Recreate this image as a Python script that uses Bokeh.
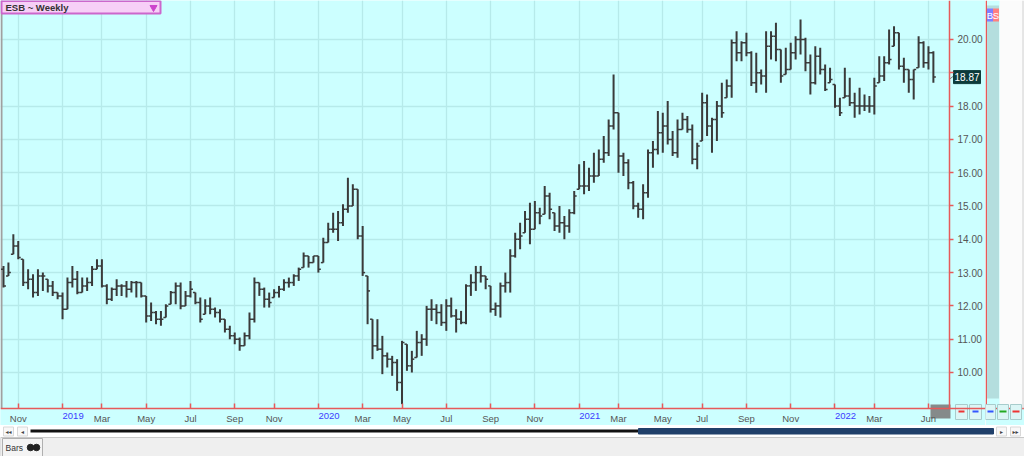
import pandas as pd
from bokeh.plotting import figure
from bokeh.layouts import column, row
from bokeh.models import ColumnDataSource, FixedTicker, PrintfTickFormatter, Range1d
from bokeh.core.properties import value
from bokeh.embed import file_html
from bokeh.resources import INLINE

# ---------------- data (weekly OHLC, ESB) ----------------
first_week = "2018-10-12"
high = [13.2, 13.3, 14.15, 13.95, 13.4, 13.1, 12.95, 13.1, 13.0, 12.8,
        12.75, 12.4, 12.4, 12.85, 13.2, 13.05, 12.85, 12.85, 13.2, 13.4,
        13.4, 12.65, 12.55, 12.8, 12.65, 12.75, 12.75, 12.75, 12.7, 12.3,
        12.1, 11.85, 11.85, 12.05, 12.45, 12.7, 12.7, 12.45, 12.75, 12.4,
        12.25, 12.2, 12.25, 11.95, 11.9, 11.6, 11.4, 11.2, 11.05, 11.2,
        11.8, 12.85, 12.7, 12.55, 12.4, 12.5, 12.6, 12.8, 12.85, 12.95,
        13.15, 13.6, 13.5, 13.5, 13.5, 14.05, 14.5, 14.8, 14.85, 15.05,
        15.85, 15.65, 15.5, 14.4, 12.9, 11.6, 11.6, 11.1, 10.6, 10.5,
        10.4, 10.95, 10.85, 10.65, 11.25, 11.15, 12.0, 12.2, 12.05, 12.05,
        12.2, 12.25, 11.9, 11.85, 12.65, 12.95, 13.2, 13.2, 12.9, 12.6,
        12.1, 12.7, 13.0, 13.7, 14.2, 14.5, 14.85, 15.1, 15.15, 14.95,
        15.6, 15.4, 14.8, 15.0, 14.7, 14.9, 15.45, 16.25, 16.35, 16.15,
        16.6, 16.7, 17.1, 17.6, 18.95, 17.8, 16.6, 16.4, 15.75, 15.1,
        15.65, 16.7, 16.95, 17.85, 17.8, 18.15, 17.25, 17.6, 17.8, 17.7,
        17.45, 16.9, 18.4, 18.35, 17.65, 18.15, 18.7, 18.8, 20.0, 20.25,
        19.95, 20.2, 19.65, 19.6, 19.1, 20.25, 20.25, 20.5, 19.7, 19.75,
        19.9, 20.1, 20.6, 20.05, 19.55, 19.8, 19.75, 19.25, 19.15, 18.65,
        18.25, 19.15, 18.85, 18.4, 18.55, 18.35, 18.3, 18.85, 19.5, 19.5,
        20.3, 20.4, 20.2, 19.45, 19.1, 19.1, 20.1, 19.95, 19.8, 19.65]
low = [12.55, 12.9, 13.55, 13.4, 12.6, 12.5, 12.25, 12.3, 12.45, 12.4,
       12.3, 12.2, 11.6, 11.9, 12.55, 12.35, 12.4, 12.45, 12.6, 13.1,
       12.55, 12.05, 12.15, 12.3, 12.3, 12.25, 12.4, 12.25, 12.25, 11.5,
       11.55, 11.45, 11.4, 11.65, 12.05, 12.05, 11.9, 12.0, 12.25, 12.05,
       11.5, 11.75, 11.75, 11.65, 11.5, 11.2, 11.0, 10.85, 10.65, 10.8,
       11.0, 11.5, 12.3, 11.95, 11.95, 12.25, 12.25, 12.45, 12.55, 12.6,
       12.75, 13.15, 13.15, 13.3, 13.0, 13.3, 13.9, 14.2, 13.95, 14.4,
       14.8, 15.0, 14.0, 12.9, 11.45, 10.4, 10.65, 9.95, 10.15, 9.9,
       9.45, 9.05, 10.05, 10.0, 10.45, 10.5, 10.8, 11.55, 11.45, 11.4,
       11.25, 11.65, 11.2, 11.45, 11.45, 12.3, 12.45, 12.7, 12.5, 11.8,
       11.7, 11.65, 12.4, 12.4, 13.45, 13.7, 14.2, 13.85, 14.3, 14.45,
       14.75, 14.6, 14.25, 14.2, 14.0, 14.2, 14.75, 15.5, 15.35, 15.45,
       15.7, 15.9, 16.3, 16.5, 17.3, 16.0, 15.9, 15.5, 14.9, 14.65,
       14.6, 15.25, 16.15, 16.55, 16.6, 16.85, 16.5, 16.45, 17.3, 17.2,
       16.25, 16.1, 16.95, 17.1, 16.6, 16.95, 17.65, 18.25, 18.25, 19.35,
       19.35, 19.5, 18.6, 18.4, 18.65, 18.4, 19.4, 19.35, 18.7, 18.95,
       19.1, 19.4, 19.55, 19.05, 18.35, 18.65, 18.95, 18.45, 18.7, 17.95,
       17.7, 18.25, 18.0, 17.65, 17.75, 17.85, 17.8, 17.75, 18.7, 18.75,
       19.25, 19.8, 19.1, 18.7, 18.4, 18.2, 19.15, 19.15, 19.1, 18.7]
close = [12.6, 13.0, 13.8, 13.45, 12.7, 12.8, 12.4, 12.9, 12.9, 12.6,
         12.4, 12.3, 11.9, 12.7, 12.8, 12.4, 12.6, 12.7, 13.1, 13.2,
         12.6, 12.2, 12.5, 12.6, 12.6, 12.5, 12.7, 12.7, 12.3, 11.7,
         11.8, 11.6, 11.6, 12.0, 12.4, 12.6, 12.0, 12.3, 12.5, 12.1,
         11.6, 12.0, 11.9, 11.8, 11.6, 11.3, 11.1, 11.0, 10.8, 11.1,
         11.6, 12.7, 12.5, 12.2, 12.1, 12.4, 12.5, 12.7, 12.7, 12.9,
         13.1, 13.5, 13.3, 13.5, 13.1, 13.9, 14.3, 14.3, 14.5, 14.9,
         15.0, 15.5, 14.1, 13.0, 12.45, 10.8, 10.7, 10.5, 10.4, 10.3,
         9.7, 10.9, 10.2, 10.4, 10.9, 11.0, 11.9, 11.9, 11.8, 11.5,
         12.0, 11.7, 11.6, 11.5, 12.6, 12.7, 13.0, 12.9, 12.8, 11.9,
         12.0, 12.6, 12.7, 13.5, 14.0, 14.1, 14.6, 14.3, 14.8, 14.7,
         15.3, 14.9, 14.4, 14.5, 14.4, 14.8, 15.3, 15.6, 15.6, 15.9,
         15.9, 16.4, 16.6, 17.4, 17.8, 16.5, 16.3, 15.7, 15.0, 14.9,
         15.4, 16.6, 16.7, 17.2, 17.4, 17.0, 16.6, 17.3, 17.6, 17.3,
         16.4, 16.8, 18.1, 17.4, 17.6, 18.0, 17.8, 18.6, 19.9, 19.6,
         19.9, 19.6, 18.7, 19.0, 18.9, 19.8, 20.1, 19.7, 18.9, 19.1,
         19.6, 20.0, 20.0, 19.3, 18.7, 19.5, 19.1, 18.5, 18.8, 18.0,
         17.8, 18.3, 18.1, 18.0, 18.0, 18.0, 18.0, 18.6, 18.9, 19.3,
         19.4, 20.2, 19.2, 19.1, 18.8, 19.1, 19.9, 19.3, 19.6, 18.87]
first_open = 13.1

tick_pos = [3, 12, 20, 29, 38, 47, 55, 64, 73, 81, 90, 99, 108, 117,
            125, 134, 142, 151, 160, 169, 177, 188]
tick_text = ["Nov", "2019", "Mar", "May", "Jul", "Sep", "Nov", "2020", "Mar",
             "May", "Jul", "Sep", "Nov", "2021", "Mar", "May", "Jul", "Sep",
             "Nov", "2022", "Mar", "Jun"]
price_ticks = [10, 11, 12, 13, 14, 15, 16, 17, 18, 19, 20]
last_price = 18.87
title_text = "ESB ~ Weekly"

# ---------------- derived ----------------
n = len(close)
xs = list(range(n))
dates = pd.date_range(first_week, periods=n, freq="7D")
opens = [first_open] + close[:-1]
opens = [min(max(o, l), h) for o, l, h in zip(opens, low, high)]
src = ColumnDataSource(dict(
    x=xs, xl=[v - 0.5 for v in xs], xr=[v + 0.5 for v in xs],
    high=high, low=low, open=opens, close=close, date=dates))

BG = "#ccffff"
RED = "#e65a5a"
BAR = "#3a3a3a"
FONT = "Liberation Sans"

# main canvas = plot frame + axis strips (axes drawn at fixed locations)
W, H = 985, 425
PX_PER_X = 4.92          # px per week
PX_PER_Y = 33.3          # px per 1.00
X_LEFT = -0.61           # data x at canvas px 0
Y_TOP = 21.171           # data y at canvas py 0
X_AX = X_LEFT + 949 / PX_PER_X   # right axis line position
Y_AX = Y_TOP - 408 / PX_PER_Y    # bottom axis line position


def xd(px):
    return X_LEFT + px / PX_PER_X


def yd(py):
    return Y_TOP - py / PX_PER_Y


p = figure(width=W, height=H, output_backend="svg", toolbar_location=None,
           x_range=Range1d(xd(0), xd(W)), y_range=Range1d(yd(H), yd(0)),
           y_axis_location="right", min_border=0)
p.background_fill_color = BG
p.border_fill_color = BG
p.outline_line_color = None

# grid
p.xgrid.ticker = FixedTicker(ticks=tick_pos)
p.ygrid.ticker = FixedTicker(ticks=price_ticks)
for g in (p.xgrid, p.ygrid):
    g.grid_line_color = "#b6eaea"
    g.grid_line_width = 1.3

# axis strips (hide grid there) and left border
p.quad(left=[xd(0), X_AX], right=[xd(W), xd(W)], top=[Y_AX, yd(0)],
       bottom=[yd(H), yd(H)], fill_color=BG, line_color=None)
p.quad(left=[xd(0)], right=[xd(2)], top=[yd(0)], bottom=[Y_AX],
       fill_color="#a0a0a0", line_color=None)

# OHLC bars
p.segment(x0="x", y0="low", x1="x", y1="high", source=src, line_color=BAR, line_width=2)
p.segment(x0="xl", y0="open", x1="x", y1="open", source=src, line_color=BAR, line_width=1.5)
p.segment(x0="x", y0="close", x1="xr", y1="close", source=src, line_color=BAR, line_width=1.5)

# y axis (right, drawn at the frame edge)
ya = p.yaxis[0]
ya.fixed_location = X_AX
ya.bounds = (Y_AX, yd(0))
ya.ticker = FixedTicker(ticks=price_ticks)
ya.formatter = PrintfTickFormatter(format="%.2f")
ya.major_label_overrides = {19: ""}
ya.axis_line_color = RED
ya.axis_line_width = 1.5
ya.major_tick_line_color = RED
ya.major_tick_line_width = 1.5
ya.major_tick_out = 4
ya.major_tick_in = 0
ya.minor_tick_line_color = None
ya.major_label_standoff = 4
ya.major_label_text_color = "#555555"
ya.major_label_text_font = FONT
ya.major_label_text_font_size = "10px"

# x axis (bottom)
xa = p.xaxis[0]
xa.fixed_location = Y_AX
xa.ticker = FixedTicker(ticks=tick_pos)
xa.major_label_overrides = {t: ("" if s.isdigit() else s) for t, s in zip(tick_pos, tick_text)}
xa.axis_line_color = RED
xa.axis_line_width = 1.5
xa.major_tick_line_color = RED
xa.major_tick_line_width = 1.5
xa.major_tick_in = 5
xa.major_tick_out = 0
xa.minor_tick_line_color = None
xa.major_label_standoff = 4
xa.major_label_text_align = "left"
xa.major_label_text_color = "#555555"
xa.major_label_text_font = FONT
xa.major_label_text_font_size = "9.5px"

# year labels in blue
yr_pos = [t for t, s in zip(tick_pos, tick_text) if s.isdigit()]
yr_txt = [s for s in tick_text if s.isdigit()]
p.text(x=yr_pos, y=[yd(412)] * len(yr_pos), text=yr_txt, text_color="#3c3cff",
       text_align="left", text_baseline="top", text_font=value(FONT),
       text_font_size="9.5px")

# "Jun" cursor box
p.quad(left=[xd(930)], right=[xd(950)], top=[yd(404)], bottom=[yd(418)],
       fill_color="#7d7d7d", line_color=None, fill_alpha=0.9)

# last price tag
p.segment(x0=[X_AX], y0=[last_price - 2 / PX_PER_Y], x1=[xd(953)], y1=[last_price + 1 / PX_PER_Y],
          line_color="#777777", line_width=1)
p.quad(left=[xd(953)], right=[xd(980)], top=[last_price + 6.5 / PX_PER_Y],
       bottom=[last_price - 6.5 / PX_PER_Y], fill_color="#0d3b3b", line_color="#0d3b3b")
p.text(x=[xd(966.5)], y=[last_price], text=[f"{last_price:.2f}"], text_color="white",
       text_align="center", text_baseline="middle", text_font=value(FONT),
       text_font_size="10px")

# small buttons in the lower right corner
p.quad(left=[xd(955), xd(969)], right=[xd(967), xd(981)], top=[yd(404)] * 2,
       bottom=[yd(419)] * 2, fill_color="#dcf6f6", line_color="#a8cccc")
p.segment(x0=[xd(958), xd(972)], y0=[yd(411)] * 2, x1=[xd(964), xd(978)], y1=[yd(411)] * 2,
          line_color=["#ee3333", "#3355ff"], line_width=2)

# title box
p.quad(left=[xd(1)], right=[xd(160)], top=[yd(0.5)], bottom=[yd(13)],
       fill_color="#f7cff7", line_color="#cc66cc", line_width=2)
p.text(x=[xd(5)], y=[yd(7)], text=[title_text], text_font=value(FONT),
       text_font_style="bold", text_font_size="9.5px", text_color="#333333",
       text_baseline="middle")
p.scatter(x=[xd(153)], y=[yd(7)], marker="inverted_triangle", size=7,
          fill_color="#cc44cc", line_color="#cc44cc")

# ---------------- side panel ----------------
SW = 1024 - W
s = figure(width=SW, height=H, output_backend="svg", toolbar_location=None,
           x_range=Range1d(0, SW), y_range=Range1d(H, 0), min_border=0)
s.axis.visible = False
s.grid.visible = False
s.outline_line_color = None
s.background_fill_color = "#fbfbfb"
s.border_fill_color = "#fbfbfb"
s.quad(left=[0], right=[14], top=[0], bottom=[408], fill_color=BG, line_color=None)
s.quad(left=[1.5], right=[13.5], top=[5], bottom=[398], fill_color="#b4dede", line_color=None)
s.quad(left=[0], right=[SW], top=[408], bottom=[H], fill_color=BG, line_color=None)
s.segment(x0=[0.75], y0=[0], x1=[0.75], y1=[408], line_color=RED, line_width=1.5)
s.segment(x0=[0], y0=[408], x1=[SW], y1=[408], line_color=RED, line_width=1.5)
s.segment(x0=[37.5], y0=[0], x1=[37.5], y1=[408], line_color="#d0d0d0", line_width=1)
s.quad(left=[1.5, 7.5], right=[7.5, 13.5], top=[8, 8], bottom=[21, 21],
       fill_color=["#7f7fff", "#ff7f7f"], line_color=None)
s.text(x=[4.5, 10.5], y=[14.5, 14.5], text=["B", "S"], text_color="white",
       text_font=value(FONT), text_font_size="9.5px", text_align="center",
       text_baseline="middle")
s.quad(left=[0, 12, 25], right=[10, 23, 36], top=[404] * 3, bottom=[419] * 3,
       fill_color="#dcf6f6", line_color="#a8cccc")
s.segment(x0=[2, 14, 27], y0=[411] * 3, x1=[8, 21, 34], y1=[411] * 3,
          line_color=["#3355ff", "#22aa22", "#ee3333"], line_width=2)

# ---------------- bottom strip ----------------
BW, BH = 1024, 456 - H
b = figure(width=BW, height=BH, output_backend="svg", toolbar_location=None,
           x_range=Range1d(0, BW), y_range=Range1d(BH, 0), min_border=0)
b.axis.visible = False
b.grid.visible = False
b.outline_line_color = None
b.background_fill_color = "white"
b.border_fill_color = "white"
b.quad(left=[3, 17, 996, 1010], right=[13, 27, 1006, 1020], top=[1.5] * 4, bottom=[10.5] * 4,
       fill_color="#f8f8f8", line_color="#d8d8d8")
b.text(x=[8, 22, 1001, 1015], y=[6] * 4, text=["◂◂", "◂", "▸", "▸▸"],
       text_color="#444444", text_font_size="6px", text_align="center",
       text_baseline="middle", text_font=value("DejaVu Sans"))
b.segment(x0=[30], y0=[5.5], x1=[640], y1=[5.5], line_color="#111111", line_width=3)
b.quad(left=[638], right=[993], top=[3], bottom=[8.5], fill_color="#20406a",
       line_color="#20406a")
b.quad(left=[0], right=[BW], top=[12], bottom=[BH], fill_color="#efefef", line_color="#c8c8c8")
b.quad(left=[2], right=[42], top=[13], bottom=[BH], fill_color="#f4f4f4", line_color="#b0b0b0")
b.text(x=[5], y=[22], text=["Bars"], text_color="#333333", text_font=value(FONT),
       text_font_size="8.5px", text_baseline="middle")
b.scatter(x=[30, 36], y=[22, 22], size=6.5, fill_color="#222222", line_color="#222222")

layout = column(row(p, s, spacing=0), b, spacing=0)
open("out.html", "w").write(file_html(layout, INLINE))
